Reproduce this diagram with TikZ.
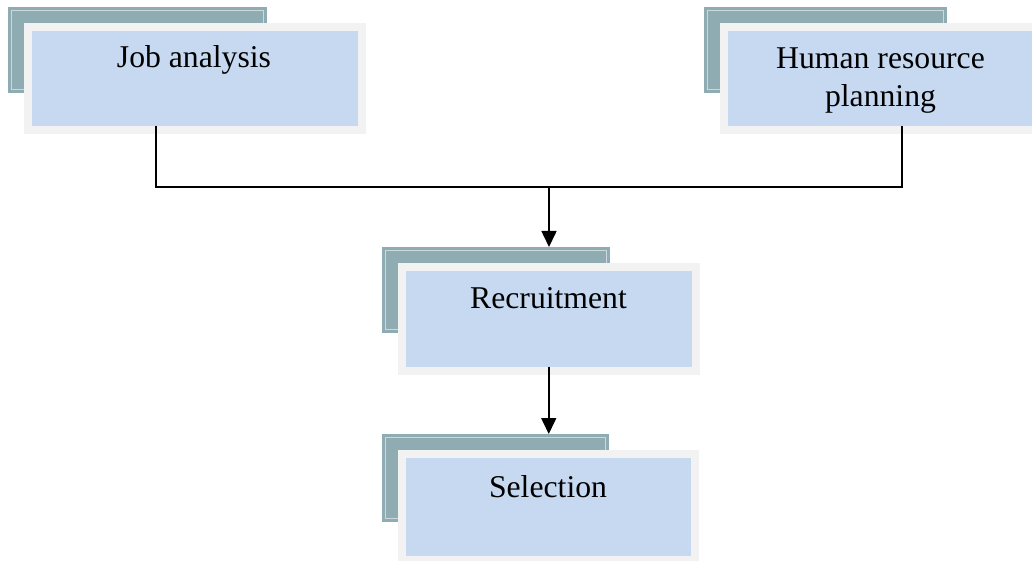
\documentclass[tikz,border=0pt]{standalone}
\usepackage{fontspec}
\setmainfont{Liberation Serif}
\usetikzlibrary{arrows.meta}
\definecolor{shadowteal}{HTML}{8FACB3}
\definecolor{framegray}{HTML}{F2F2F2}
\definecolor{panelblue}{HTML}{C6D9F0}
\begin{document}
\begin{tikzpicture}[x=1pt,y=-1pt,
  backcard/.style={rectangle, fill=shadowteal, outer sep=0pt, inner sep=0pt,
    path picture={\draw[white, line width=0.5pt, opacity=0.55]
      ([shift={(3.5pt,-3.5pt)}]path picture bounding box.north west) rectangle
      ([shift={(-3.5pt,3.5pt)}]path picture bounding box.south east);}},
  card/.style={rectangle, draw=framegray, fill=panelblue, line width=8pt,
    outer sep=0pt, inner sep=0pt},
  label/.style={font=\fontsize{31.7}{38}\selectfont, anchor=base, inner sep=0pt,
    align=center},
  link/.style={line width=1.6pt, black},
  flow/.style={link, -{Triangle[width=15pt,length=16pt]}}]
\useasboundingbox (0,0) rectangle (1032,561);
\begin{scope}
\clip (0,0) rectangle (1032,561);

% stacked cards: shadow card behind, framed panel in front
\node[backcard, minimum width=259pt, minimum height=86pt] (ja-back) at (137.5,50) {};
\node[card, minimum width=334pt, minimum height=103pt] (ja) at (195,78.5) {};

\node[backcard, minimum width=243pt, minimum height=86pt] (hr-back) at (825.5,50) {};
\node[card, minimum width=320pt, minimum height=103pt] (hr) at (884,78.5) {};

\node[backcard, minimum width=228pt, minimum height=86pt] (rec-back) at (496,290) {};
\node[card, minimum width=294.5pt, minimum height=103.5pt] (rec) at (548.75,318.75) {};

\node[backcard, minimum width=227pt, minimum height=88pt] (sel-back) at (495.5,478) {};
\node[card, minimum width=293.5pt, minimum height=106pt] (sel) at (548.25,507) {};

% labels (a two-line label sits on the baseline of its last line)
\node[label] (ja-text) at (194,68) {Job analysis};
\node[label] (hr-text) at (880.5,107) {Human resource\\planning};
\node[label] (rec-text) at (548.5,308) {Recruitment};
\node[label] (sel-text) at (548,497) {Selection};

% connectors
\coordinate (ja-out) at (156,126);
\coordinate (hr-out) at (902,126);
\coordinate (merge) at (549,187);
\draw[link] (ja-out) |- (merge) -| (hr-out);
\draw[flow] (merge) -- (merge |- rec-back.north);
\draw[flow] ([yshift=4pt]rec.south) -- (rec.south |- sel-back.north);
\end{scope}
\end{tikzpicture}
\end{document}
